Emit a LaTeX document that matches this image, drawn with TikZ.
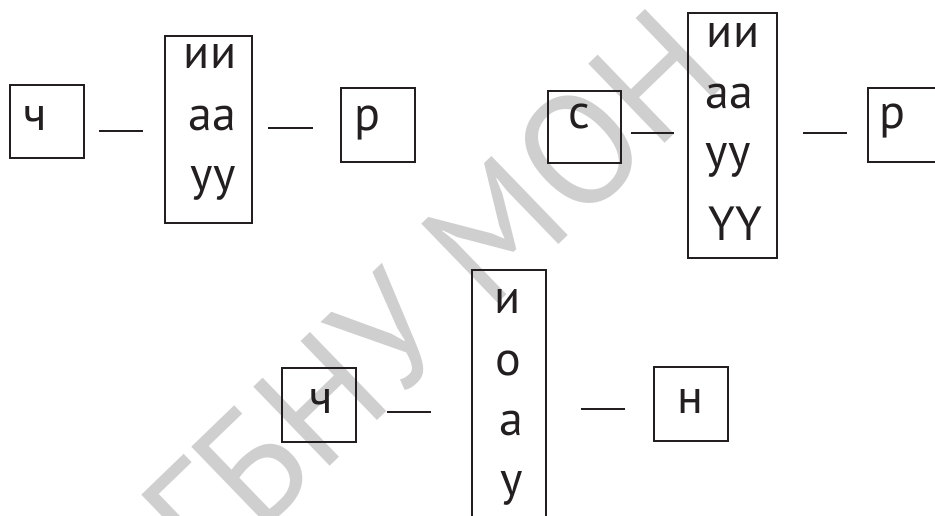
\documentclass[tikz,border=0pt]{standalone}
\usepackage{fontspec}
\setmainfont{PT Sans}
\definecolor{ink}{HTML}{231F20}
\definecolor{wm}{HTML}{CFCFCF}
\begin{document}
\begin{tikzpicture}[x=1pt,y=-1pt,
  box/.style={draw=ink, line width=2.3pt, inner sep=0pt},
  lbl/.style={anchor=base, inner sep=0pt, font=\fontsize{48}{48}\selectfont, text=ink},
  conn/.style={draw=ink, line width=2.3pt},
  wmtext/.style={anchor=base west, inner sep=0pt, rotate=44, text=wm, font=\fontsize{157}{157}\selectfont}]
\useasboundingbox (0,0) rectangle (935,515);
\clip (0,0) rectangle (935,515);
% watermark
\node[wmtext] (wmk) at (208,584) {ГБНУ МОН};
% group 1
\node[box, minimum width=74, minimum height=73] (a1) at (47,121.5) {};
\node[lbl] (a1t) at (35,130) {ч};
\node[box, minimum width=87, minimum height=187] (b1) at (208.5,129.5) {};
\node[lbl] (b1t1) at (210,68) {ии};
\node[lbl] (b1t2) at (212,130) {аа};
\node[lbl] (b1t3) at (213,190) {уу};
\node[box, minimum width=74, minimum height=74] (c1) at (378,125) {};
\node[lbl] (c1t) at (367,130) {р};
\coordinate (d1a) at (99,131); \coordinate (d1b) at (143,131);
\coordinate (d2a) at (268,128); \coordinate (d2b) at (313,128);
\draw[conn] (d1a) -- (d1b);
\draw[conn] (d2a) -- (d2b);
% group 2
\node[box, minimum width=73, minimum height=72] (a2) at (584.5,127) {};
\node[lbl] (a2t) at (579,128) {с};
\node[box, minimum width=89, minimum height=245] (b2) at (732.5,135.5) {};
\node[lbl] (b2t1) at (733,47) {ии};
\node[lbl] (b2t2) at (729,108) {аа};
\node[lbl] (b2t3) at (728,167) {уу};
\node[lbl] (b2t4) at (735,240) {ҮҮ};
\node[box, minimum width=100, minimum height=74] (c2) at (918,125) {};
\node[lbl] (c2t) at (892,128) {р};
\coordinate (d3a) at (631,133); \coordinate (d3b) at (674,133);
\coordinate (d4a) at (803,133); \coordinate (d4b) at (847,133);
\draw[conn] (d3a) -- (d3b);
\draw[conn] (d4a) -- (d4b);
% group 3
\node[box, minimum width=74, minimum height=74] (a3) at (319,405) {};
\node[lbl] (a3t) at (321,413) {ч};
\node[box, minimum width=74, minimum height=270] (b3) at (509,405) {};
\node[lbl] (b3t1) at (508,313) {и};
\node[lbl] (b3t2) at (508,375) {о};
\node[lbl] (b3t3) at (511,435) {а};
\node[lbl] (b3t4) at (512,495) {у};
\node[box, minimum width=74, minimum height=74] (c3) at (691,404) {};
\node[lbl] (c3t) at (690,413) {н};
\coordinate (d5a) at (387,412); \coordinate (d5b) at (431,412);
\coordinate (d6a) at (581,409); \coordinate (d6b) at (625,409);
\draw[conn] (d5a) -- (d5b);
\draw[conn] (d6a) -- (d6b);
\end{tikzpicture}
\end{document}
